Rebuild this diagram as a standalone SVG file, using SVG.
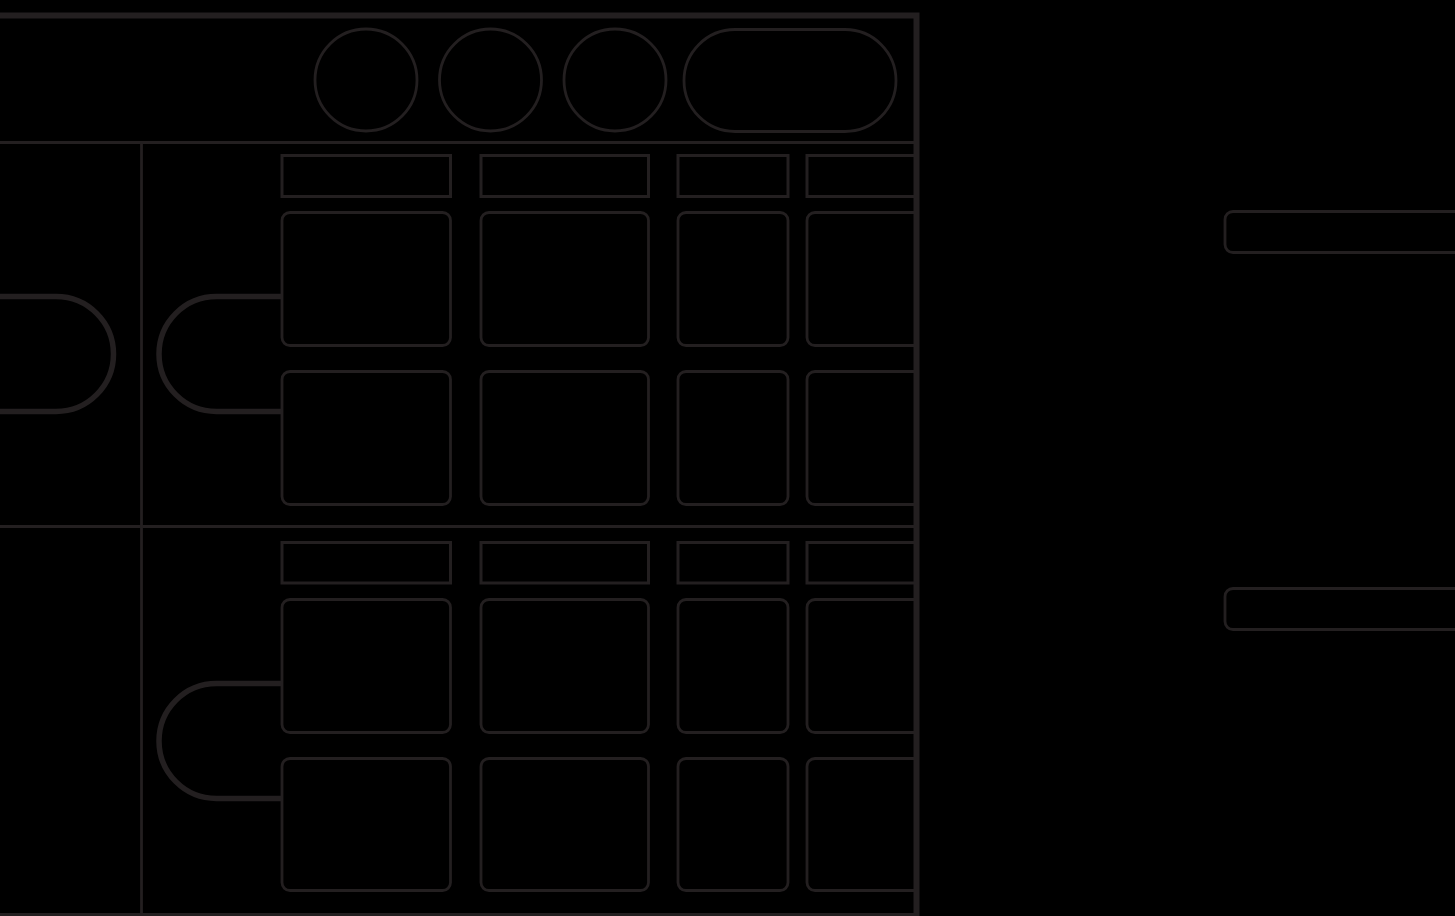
<svg xmlns="http://www.w3.org/2000/svg" width="1455" height="916" viewBox="0 0 1455 916">
<style>
.bg{fill:#000}
.s{fill:none;stroke:#231f20}
.thick{stroke-width:6}
.line{stroke-width:2.8}
.hdr{stroke-width:3}
.box{stroke-width:2.8}
.brk{stroke-width:5.5}
</style>
<rect class="bg" x="0" y="0" width="1455" height="916"/>
<g id="frame">
<path class="s thick" d="M0 15.5 H916.5 V916"/>
<line class="s line" x1="0" y1="142.5" x2="916" y2="142.5"/>
<line class="s line" x1="0" y1="526.5" x2="916" y2="526.5"/>
<line class="s line" x1="141.5" y1="142.5" x2="141.5" y2="916"/>
<line class="s line" x1="0" y1="914.5" x2="916" y2="914.5"/>
</g>
<g id="header-circles">
<circle class="s box" cx="366" cy="80" r="51"/>
<circle class="s box" cx="490.5" cy="80" r="51"/>
<circle class="s box" cx="615" cy="80" r="51"/>
<rect class="s box" x="684" y="29.5" width="212" height="102" rx="51"/>
</g>
<g id="section1">
<rect class="s hdr" x="282" y="155.5" width="168.5" height="41"/>
<rect class="s hdr" x="481" y="155.5" width="167.5" height="41"/>
<rect class="s hdr" x="678" y="155.5" width="110" height="41"/>
<path class="s hdr" d="M916 155.5 H807 V196.5 H916"/>
<rect class="s box" x="282" y="212.5" width="168.5" height="133" rx="8"/>
<rect class="s box" x="481" y="212.5" width="167.5" height="133" rx="8"/>
<rect class="s box" x="678" y="212.5" width="110" height="133" rx="8"/>
<path class="s box" d="M914 212.5 H815 a8 8 0 0 0 -8 8 V337.5 a8 8 0 0 0 8 8 H914"/>
<rect class="s box" x="282" y="371.5" width="168.5" height="133" rx="8"/>
<rect class="s box" x="481" y="371.5" width="167.5" height="133" rx="8"/>
<rect class="s box" x="678" y="371.5" width="110" height="133" rx="8"/>
<path class="s box" d="M914 371.5 H815 a8 8 0 0 0 -8 8 V496.5 a8 8 0 0 0 8 8 H914"/>
</g>
<g id="section2">
<rect class="s hdr" x="282" y="542.5" width="168.5" height="40.5"/>
<rect class="s hdr" x="481" y="542.5" width="167.5" height="40.5"/>
<rect class="s hdr" x="678" y="542.5" width="110" height="40.5"/>
<path class="s hdr" d="M916 542.5 H807 V583 H916"/>
<rect class="s box" x="282" y="599.5" width="168.5" height="133" rx="8"/>
<rect class="s box" x="481" y="599.5" width="167.5" height="133" rx="8"/>
<rect class="s box" x="678" y="599.5" width="110" height="133" rx="8"/>
<path class="s box" d="M914 599.5 H815 a8 8 0 0 0 -8 8 V724.5 a8 8 0 0 0 8 8 H914"/>
<rect class="s box" x="282" y="758.5" width="168.5" height="132" rx="8"/>
<rect class="s box" x="481" y="758.5" width="167.5" height="132" rx="8"/>
<rect class="s box" x="678" y="758.5" width="110" height="132" rx="8"/>
<path class="s box" d="M914 758.5 H815 a8 8 0 0 0 -8 8 V882.5 a8 8 0 0 0 8 8 H914"/>
</g>
<g id="right-boxes">
<rect class="s box" x="1225" y="211.5" width="240" height="41" rx="8"/>
<rect class="s box" x="1225" y="588.5" width="240" height="41" rx="8"/>
</g>
<g id="connectors">
<path class="s brk" d="M0 296.5 H56 A57.5 57.5 0 0 1 56 411.5 H0"/>
<path class="s brk" d="M281 296.5 H216.5 A57.5 57.5 0 0 0 216.5 411.5 H281"/>
<path class="s brk" d="M281 683.5 H216.5 A57.5 57.5 0 0 0 216.5 798.5 H281"/>
</g>
</svg>
